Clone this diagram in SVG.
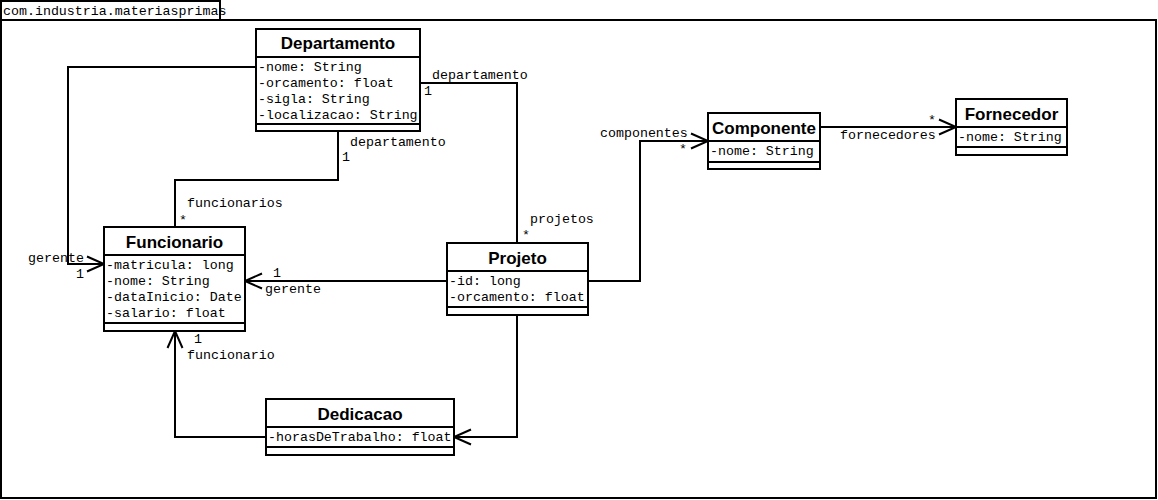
<svg xmlns="http://www.w3.org/2000/svg" width="1158" height="500" viewBox="0 0 1158 500">
<style>
.box{fill:#fff;stroke:#000;stroke-width:2}
.ln{stroke:#000;stroke-width:2}
.t{font-family:"Liberation Sans",Arial,sans-serif;font-weight:bold;font-size:17px;text-anchor:middle;fill:#000}
.m{font-family:"Liberation Mono","Courier New",monospace;font-size:13.3px;fill:#000}
.c{fill:none;stroke:#000;stroke-width:2}
</style>
<defs>
<marker id="a" markerWidth="20" markerHeight="18" refX="17" refY="8" orient="auto" markerUnits="userSpaceOnUse" viewBox="0 0 20 16" overflow="visible">
<path d="M0,0.5 L17,8 L0,15.5" fill="none" stroke="#000" stroke-width="2"/>
</marker>
</defs>
<rect x="0" y="0" width="1158" height="500" fill="#fff"/>
<g id="package">
<rect x="1" y="20" width="1155" height="478" fill="none" stroke="#000" stroke-width="2"/>
<rect x="1" y="1" width="219" height="19" fill="#fff" stroke="#000" stroke-width="2"/>
<text class="m" x="3" y="15">com.industria.materiasprimas</text>
</g>
<g id="connectors">
<polyline class="c" points="256,67 68,67 68,264 104,264" marker-end="url(#a)"/>
<polyline class="c" points="338,131 338,180 175,180 175,227"/>
<polyline class="c" points="420,83 517,83 517,243"/>
<polyline class="c" points="447,281 245,281" marker-end="url(#a)"/>
<polyline class="c" points="588,281 640,281 640,141 708,141" marker-end="url(#a)"/>
<polyline class="c" points="820,127 956,127" marker-end="url(#a)"/>
<polyline class="c" points="517,315 517,437 454,437" marker-end="url(#a)"/>
<polyline class="c" points="266,437 175,437 175,331" marker-end="url(#a)"/>
<text class="m" x="28" y="262">gerente</text>
<text class="m" x="76" y="278">1</text>
<text class="m" x="350" y="146">departamento</text>
<text class="m" x="342" y="161">1</text>
<text class="m" x="187" y="207">funcionarios</text>
<text class="m" x="179" y="224">*</text>
<text class="m" x="432" y="79">departamento</text>
<text class="m" x="424" y="95">1</text>
<text class="m" x="530" y="223">projetos</text>
<text class="m" x="522" y="239">*</text>
<text class="m" x="273" y="277">1</text>
<text class="m" x="265" y="293">gerente</text>
<text class="m" x="600" y="137">componentes</text>
<text class="m" x="679" y="153">*</text>
<text class="m" x="928" y="124">*</text>
<text class="m" x="840" y="139">fornecedores</text>
<text class="m" x="194" y="343">1</text>
<text class="m" x="187" y="359">funcionario</text>
</g>
<g id="Departamento">
<rect class="box" x="256" y="29" width="164" height="102"/>
<line class="ln" x1="256" y1="57" x2="420" y2="57"/>
<line class="ln" x1="256" y1="124" x2="420" y2="124"/>
<text class="t" x="338" y="49">Departamento</text>
<text class="m" x="258" y="71">-nome: String</text>
<text class="m" x="258" y="87">-orcamento: float</text>
<text class="m" x="258" y="103">-sigla: String</text>
<text class="m" x="258" y="119">-localizacao: String</text>
</g>
<g id="Funcionario">
<rect class="box" x="104" y="227" width="141" height="104"/>
<line class="ln" x1="104" y1="255" x2="245" y2="255"/>
<line class="ln" x1="104" y1="323" x2="245" y2="323"/>
<text class="t" x="174.5" y="248">Funcionario</text>
<text class="m" x="106" y="269">-matricula: long</text>
<text class="m" x="106" y="285">-nome: String</text>
<text class="m" x="106" y="301">-dataInicio: Date</text>
<text class="m" x="106" y="317">-salario: float</text>
</g>
<g id="Projeto">
<rect class="box" x="447" y="243" width="141" height="72"/>
<line class="ln" x1="447" y1="271" x2="588" y2="271"/>
<line class="ln" x1="447" y1="307" x2="588" y2="307"/>
<text class="t" x="517.5" y="264">Projeto</text>
<text class="m" x="449" y="285">-id: long</text>
<text class="m" x="449" y="301">-orcamento: float</text>
</g>
<g id="Componente">
<rect class="box" x="708" y="113" width="112" height="56"/>
<line class="ln" x1="708" y1="141" x2="820" y2="141"/>
<line class="ln" x1="708" y1="162" x2="820" y2="162"/>
<text class="t" x="764" y="134">Componente</text>
<text class="m" x="710" y="155">-nome: String</text>
</g>
<g id="Fornecedor">
<rect class="box" x="956" y="99" width="111" height="56"/>
<line class="ln" x1="956" y1="127" x2="1067" y2="127"/>
<line class="ln" x1="956" y1="147" x2="1067" y2="147"/>
<text class="t" x="1011.5" y="120">Fornecedor</text>
<text class="m" x="958" y="141">-nome: String</text>
</g>
<g id="Dedicacao">
<rect class="box" x="266" y="399" width="188" height="56"/>
<line class="ln" x1="266" y1="427" x2="454" y2="427"/>
<line class="ln" x1="266" y1="447" x2="454" y2="447"/>
<text class="t" x="360" y="420">Dedicacao</text>
<text class="m" x="268" y="441">-horasDeTrabalho: float</text>
</g>
</svg>
